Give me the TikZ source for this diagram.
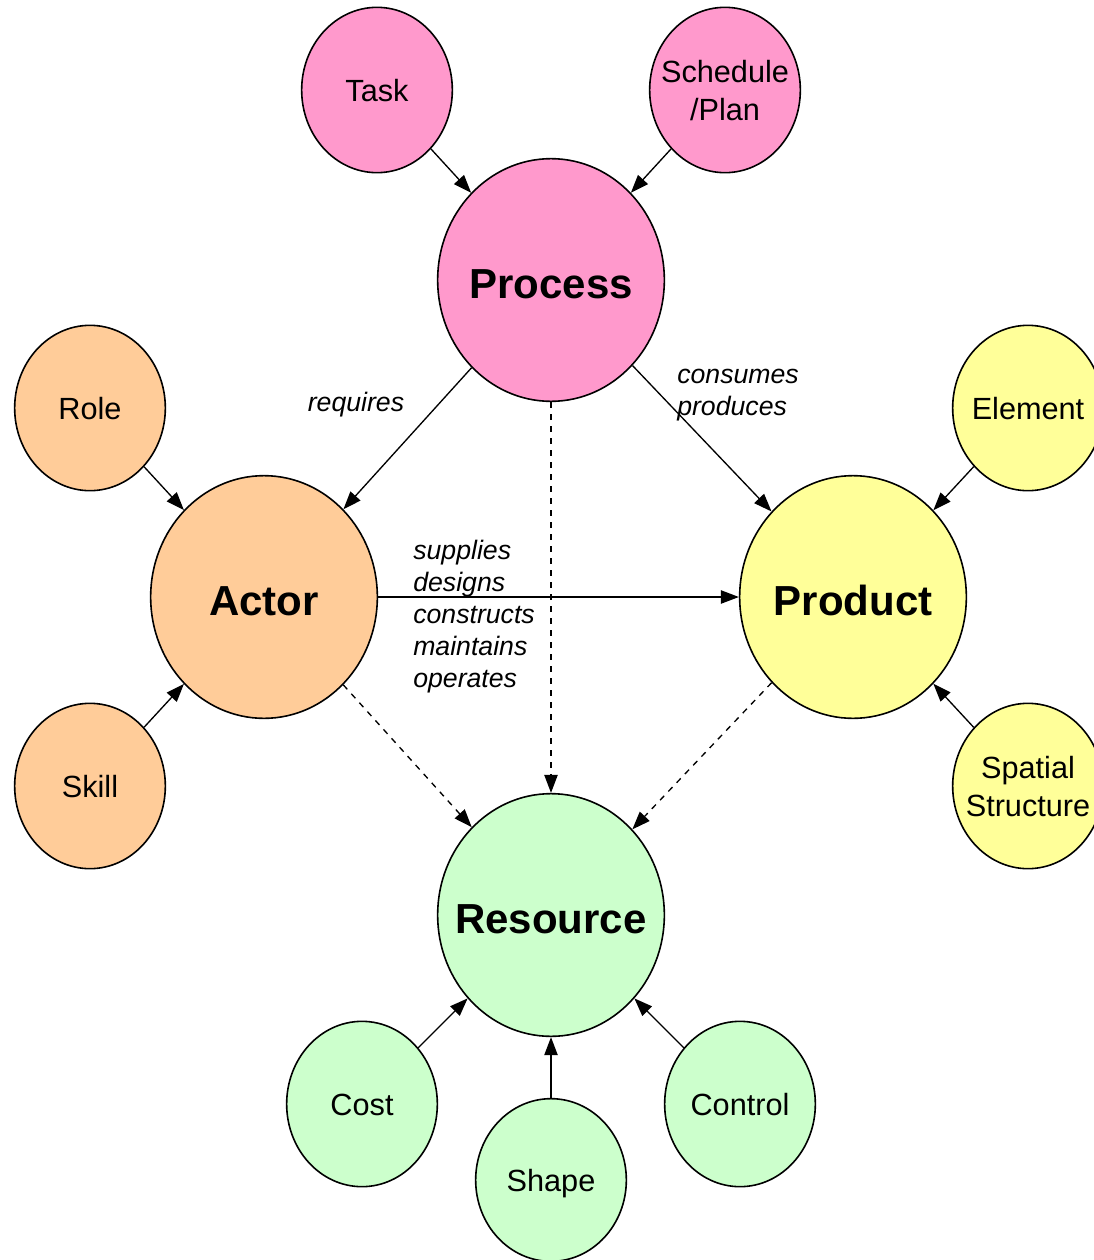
\documentclass[tikz,border=0pt]{standalone}
\usepackage{fontspec}
\setmainfont{Liberation Sans}
\usetikzlibrary{shapes.geometric,arrows.meta}
\definecolor{cpink}{HTML}{FF99CC}
\definecolor{corange}{HTML}{FFCC99}
\definecolor{cyellow}{HTML}{FFFF99}
\definecolor{cgreen}{HTML}{CCFFCC}
\newcommand{\bx}[1]{\makebox[0pt]{\raisebox{-9.5pt}[0pt][0pt]{\begin{tabular}{@{}c@{}}#1\end{tabular}}}}
\newcommand{\bxb}[1]{\makebox[0pt]{\raisebox{-13.1pt}[0pt][0pt]{\begin{tabular}{@{}c@{}}#1\end{tabular}}}}
\tikzset{
  bubble/.style={ellipse,draw=black,line width=1.2pt,inner sep=0pt,align=center},
  small/.style={bubble,minimum width=113pt,minimum height=124pt,font=\fontsize{23}{28.5}\selectfont},
  big/.style={bubble,minimum width=170pt,minimum height=182pt,font=\fontsize{31.5}{36}\selectfont\bfseries},
  arr/.style={line width=1pt,-{Triangle[length=13.5pt,width=10pt]}},
  darr/.style={arr,dash pattern=on 4.5pt off 4.5pt},
  lab/.style={font=\fontsize{20}{24}\selectfont\itshape,inner sep=0pt,align=left},
}
\begin{document}
\begin{tikzpicture}[x=0.75pt,y=-0.75pt]
\useasboundingbox (0,0) rectangle (1094,1260);
\node[small,fill=cpink] (task) at (377,90) {\bx{Task}};
\node[small,fill=cpink] (sched) at (725,90) {\bx{Schedule\\/Plan}};
\node[big,fill=cpink] (process) at (551,280) {\bxb{Process}};
\node[small,fill=corange] (role) at (90,408) {\bx{Role}};
\node[small,fill=corange] (skill) at (90,786) {\bx{Skill}};
\node[big,fill=corange] (actor) at (264,597) {\bxb{Actor}};
\node[small,fill=cyellow] (element) at (1028,408) {\bx{Element}};
\node[small,fill=cyellow] (spatial) at (1028,786) {\bx{Spatial\\Structure}};
\node[big,fill=cyellow] (product) at (853,597) {\bxb{Product}};
\node[big,fill=cgreen] (resource) at (551,915) {\bxb{Resource}};
\node[small,fill=cgreen] (cost) at (362,1104) {\bx{Cost}};
\node[small,fill=cgreen] (control) at (740,1104) {\bx{Control}};
\node[small,fill=cgreen,minimum height=122pt] (shape) at (551,1180) {\bx{Shape}};

\draw[arr] (task) -- (process);
\draw[arr] (sched) -- (process);
\draw[arr] (process) -- (actor);
\draw[arr] (process) -- (product);
\draw[darr] (process) -- (resource);
\draw[arr] (actor) -- (product);
\draw[darr] (actor) -- (resource);
\draw[darr] (product) -- (resource);
\draw[arr] (role) -- (actor);
\draw[arr] (skill) -- (actor);
\draw[arr] (element) -- (product);
\draw[arr] (spatial) -- (product);
\draw[arr] (cost) -- (resource);
\draw[arr] (shape) -- (resource);
\draw[arr] (control) -- (resource);

\node[lab] (lreq) at (356,405) {requires};
\node[lab,anchor=north west] (lcons) at (677,369) {consumes\\produces};
\node[lab,anchor=north west] (lsup) at (413,540) {supplies\\designs\\constructs\\maintains\\operates};
\end{tikzpicture}
\end{document}
